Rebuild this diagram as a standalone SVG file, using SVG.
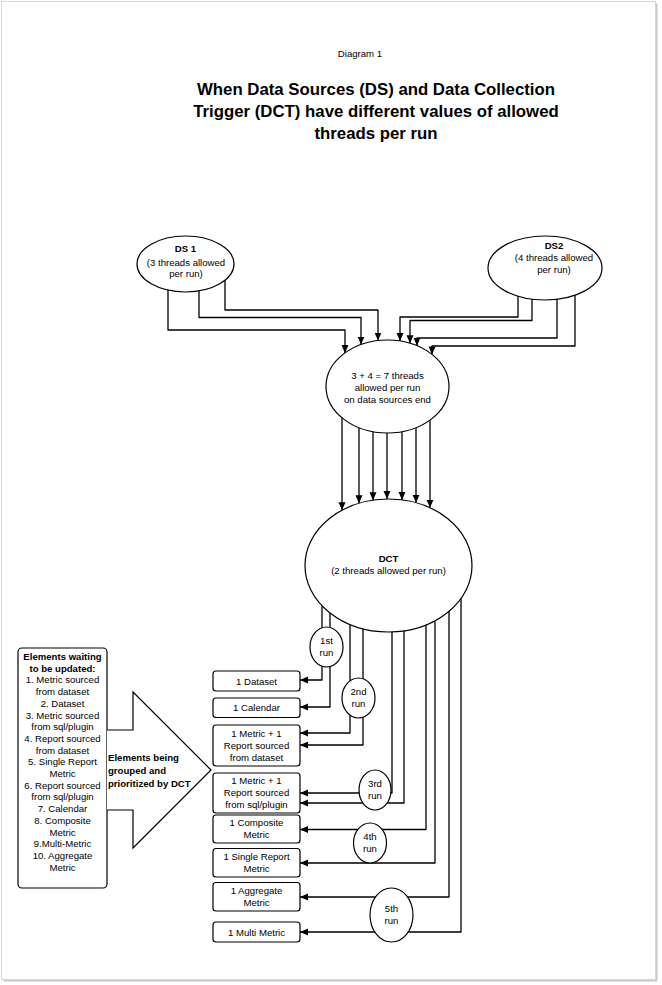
<svg xmlns="http://www.w3.org/2000/svg" width="662" height="985" viewBox="0 0 662 985">
<style>
text{font-family:"Liberation Sans",Arial,sans-serif;fill:#000;text-anchor:middle}
.t{font-size:9.6px}
.b{font-size:9.6px;font-weight:bold}
.h{font-size:16.8px;font-weight:bold}
.n{fill:#fff;stroke:#000;stroke-width:1.2}
.c{fill:none;stroke:#000;stroke-width:1.3;stroke-linejoin:round}
.ca{fill:none;stroke:#000;stroke-width:1.3;stroke-linejoin:round;marker-end:url(#ah)}
</style>
<defs>
<marker id="ah" markerUnits="userSpaceOnUse" markerWidth="9" markerHeight="8" refX="8" refY="3.5" orient="auto">
<path d="M0,0 L8,3.5 L0,7 z" fill="#000"/>
</marker>
</defs>
<rect x="3.5" y="3.5" width="654" height="978" fill="#c8c8c8"/>
<rect x="1.5" y="1.5" width="654" height="978" fill="#fff" stroke="#d6d6d6" stroke-width="1"/>
<g id="titles">
<text class="t" x="360" y="57">Diagram 1</text>
<text class="h" x="376" y="95">When Data Sources (DS) and Data Collection</text>
<text class="h" x="376" y="117">Trigger (DCT) have different values of allowed</text>
<text class="h" x="376" y="139">threads per run</text>
</g>
<g id="connectors">
<path class="ca" d="M168,270 V330 H345 V352.9"/>
<path class="ca" d="M199,270 V317.5 H361 V344.6"/>
<path class="ca" d="M225,270 V310 H378 V340.6"/>
<path class="ca" d="M518,280 V317 H400 V341"/>
<path class="ca" d="M532,280 V320.5 H410 V343.2"/>
<path class="ca" d="M557,280 V338 H417 V345.7"/>
<path class="ca" d="M575,280 V346 H432 V354.4"/>
<path class="ca" d="M342,400 V510.2"/>
<path class="ca" d="M359,400 V503.3"/>
<path class="ca" d="M373,400 V500.2"/>
<path class="ca" d="M387,400 V499"/>
<path class="ca" d="M402,400 V499.9"/>
<path class="ca" d="M416,400 V502.7"/>
<path class="ca" d="M430,400 V507.8"/>
<path class="ca" d="M322,590 V680 H300"/>
<path class="ca" d="M330,590 V707 H300"/>
<path class="ca" d="M350,590 V733 H300"/>
<path class="ca" d="M363,590 V745 H300"/>
<path class="ca" d="M392,590 V793 H300"/>
<path class="ca" d="M404,590 V803 H300"/>
<path class="ca" d="M426,590 V829.5 H300"/>
<path class="ca" d="M435,590 V863 H300"/>
<path class="ca" d="M449,590 V897 H300"/>
<path class="ca" d="M461,590 V932 H300"/>
</g>
<g id="ds1">
<ellipse class="n" cx="185.5" cy="264" rx="48.5" ry="28"/>
<text class="b" x="185.5" y="252">DS 1</text>
<text class="t" x="186" y="265.5">(3 threads allowed</text>
<text class="t" x="186" y="277">per run)</text>
</g>
<g id="ds2">
<ellipse class="n" cx="545" cy="268" rx="57" ry="32"/>
<text class="b" x="554" y="249">DS2</text>
<text class="t" x="554" y="261">(4 threads allowed</text>
<text class="t" x="554" y="273">per run)</text>
</g>
<g id="sum">
<ellipse class="n" cx="387.5" cy="386.5" rx="61.5" ry="46.5"/>
<text class="t" x="387.5" y="378.5">3 + 4 = 7 threads</text>
<text class="t" x="387.5" y="391">allowed per run</text>
<text class="t" x="387.5" y="403">on data sources end</text>
</g>
<g id="dct">
<ellipse class="n" cx="388.5" cy="565.5" rx="83.5" ry="66.5"/>
<text class="b" x="388.5" y="562">DCT</text>
<text class="t" x="388.5" y="574">(2 threads allowed per run)</text>
</g>
<g id="run1">
<ellipse class="n" cx="326.5" cy="647" rx="16.5" ry="20"/>
<text class="t" x="326.5" y="644">1st</text>
<text class="t" x="326.5" y="655.5">run</text>
</g>
<g id="run2">
<ellipse class="n" cx="358.5" cy="698" rx="16.5" ry="20"/>
<text class="t" x="358.5" y="695">2nd</text>
<text class="t" x="358.5" y="706.5">run</text>
</g>
<g id="run3">
<ellipse class="n" cx="375" cy="790" rx="16" ry="20"/>
<text class="t" x="375" y="787">3rd</text>
<text class="t" x="375" y="798.5">run</text>
</g>
<g id="run4">
<ellipse class="n" cx="370" cy="843" rx="16.5" ry="20"/>
<text class="t" x="370" y="840">4th</text>
<text class="t" x="370" y="851.5">run</text>
</g>
<g id="run5">
<ellipse class="n" cx="391.5" cy="915" rx="21.5" ry="27"/>
<text class="t" x="391.5" y="912">5th</text>
<text class="t" x="391.5" y="923.5">run</text>
</g>
<g id="box-dataset">
<rect class="n" x="213" y="671" width="87" height="20" rx="3"/>
<text class="t" x="256.5" y="684.5">1 Dataset</text>
</g>
<g id="box-calendar">
<rect class="n" x="213" y="698" width="87" height="19.5" rx="3"/>
<text class="t" x="256.5" y="711">1 Calendar</text>
</g>
<g id="box-metric-dataset">
<rect class="n" x="213" y="725" width="87" height="41" rx="3"/>
<text class="t" x="256.5" y="736.5">1 Metric + 1</text>
<text class="t" x="256.5" y="749">Report sourced</text>
<text class="t" x="256.5" y="760.5">from dataset</text>
</g>
<g id="box-metric-sql">
<rect class="n" x="213" y="773" width="87" height="40" rx="3"/>
<text class="t" x="256.5" y="783.5">1 Metric + 1</text>
<text class="t" x="256.5" y="796">Report sourced</text>
<text class="t" x="256.5" y="807.5">from sql/plugin</text>
</g>
<g id="box-composite">
<rect class="n" x="213" y="815" width="87" height="28" rx="3"/>
<text class="t" x="256.5" y="826">1 Composite</text>
<text class="t" x="256.5" y="838">Metric</text>
</g>
<g id="box-single">
<rect class="n" x="213" y="848.5" width="87" height="28.5" rx="3"/>
<text class="t" x="256.5" y="859.5">1 Single Report</text>
<text class="t" x="256.5" y="871.5">Metric</text>
</g>
<g id="box-aggregate">
<rect class="n" x="213" y="882.5" width="87" height="28.5" rx="3"/>
<text class="t" x="256.5" y="893.5">1 Aggregate</text>
<text class="t" x="256.5" y="905.5">Metric</text>
</g>
<g id="box-multi">
<rect class="n" x="213" y="922" width="87" height="20" rx="3"/>
<text class="t" x="256.5" y="935.5">1 Multi Metric</text>
</g>
<g id="list">
<rect class="n" x="18" y="648" width="89" height="240" rx="4"/>
<text class="b" x="62.5" y="660">Elements waiting</text>
<text class="b" x="62.5" y="671.7">to be updated:</text>
<text class="t" x="62.5" y="683.4">1. Metric sourced</text>
<text class="t" x="62.5" y="695.1">from dataset</text>
<text class="t" x="62.5" y="706.8">2. Dataset</text>
<text class="t" x="62.5" y="718.5">3. Metric sourced</text>
<text class="t" x="62.5" y="730.2">from sql/plugin</text>
<text class="t" x="62.5" y="741.9">4. Report sourced</text>
<text class="t" x="62.5" y="753.6">from dataset</text>
<text class="t" x="62.5" y="765.3">5. Single Report</text>
<text class="t" x="62.5" y="777">Metric</text>
<text class="t" x="62.5" y="788.7">6. Report sourced</text>
<text class="t" x="62.5" y="800.4">from sql/plugin</text>
<text class="t" x="62.5" y="812.1">7. Calendar</text>
<text class="t" x="62.5" y="823.8">8. Composite</text>
<text class="t" x="62.5" y="835.5">Metric</text>
<text class="t" x="62.5" y="847.2">9.Multi-Metric</text>
<text class="t" x="62.5" y="858.9">10. Aggregate</text>
<text class="t" x="62.5" y="870.6">Metric</text>
</g>
<g id="grouping-arrow">
<path class="n" d="M107,730 H133 V692 L211,770 L133,848 V810 H107"/>
<text class="b" x="108" y="760.5" style="text-anchor:start">Elements being</text>
<text class="b" x="108" y="773.5" style="text-anchor:start">grouped and</text>
<text class="b" x="108" y="786.5" style="text-anchor:start">prioritized by DCT</text>
</g>
</svg>
